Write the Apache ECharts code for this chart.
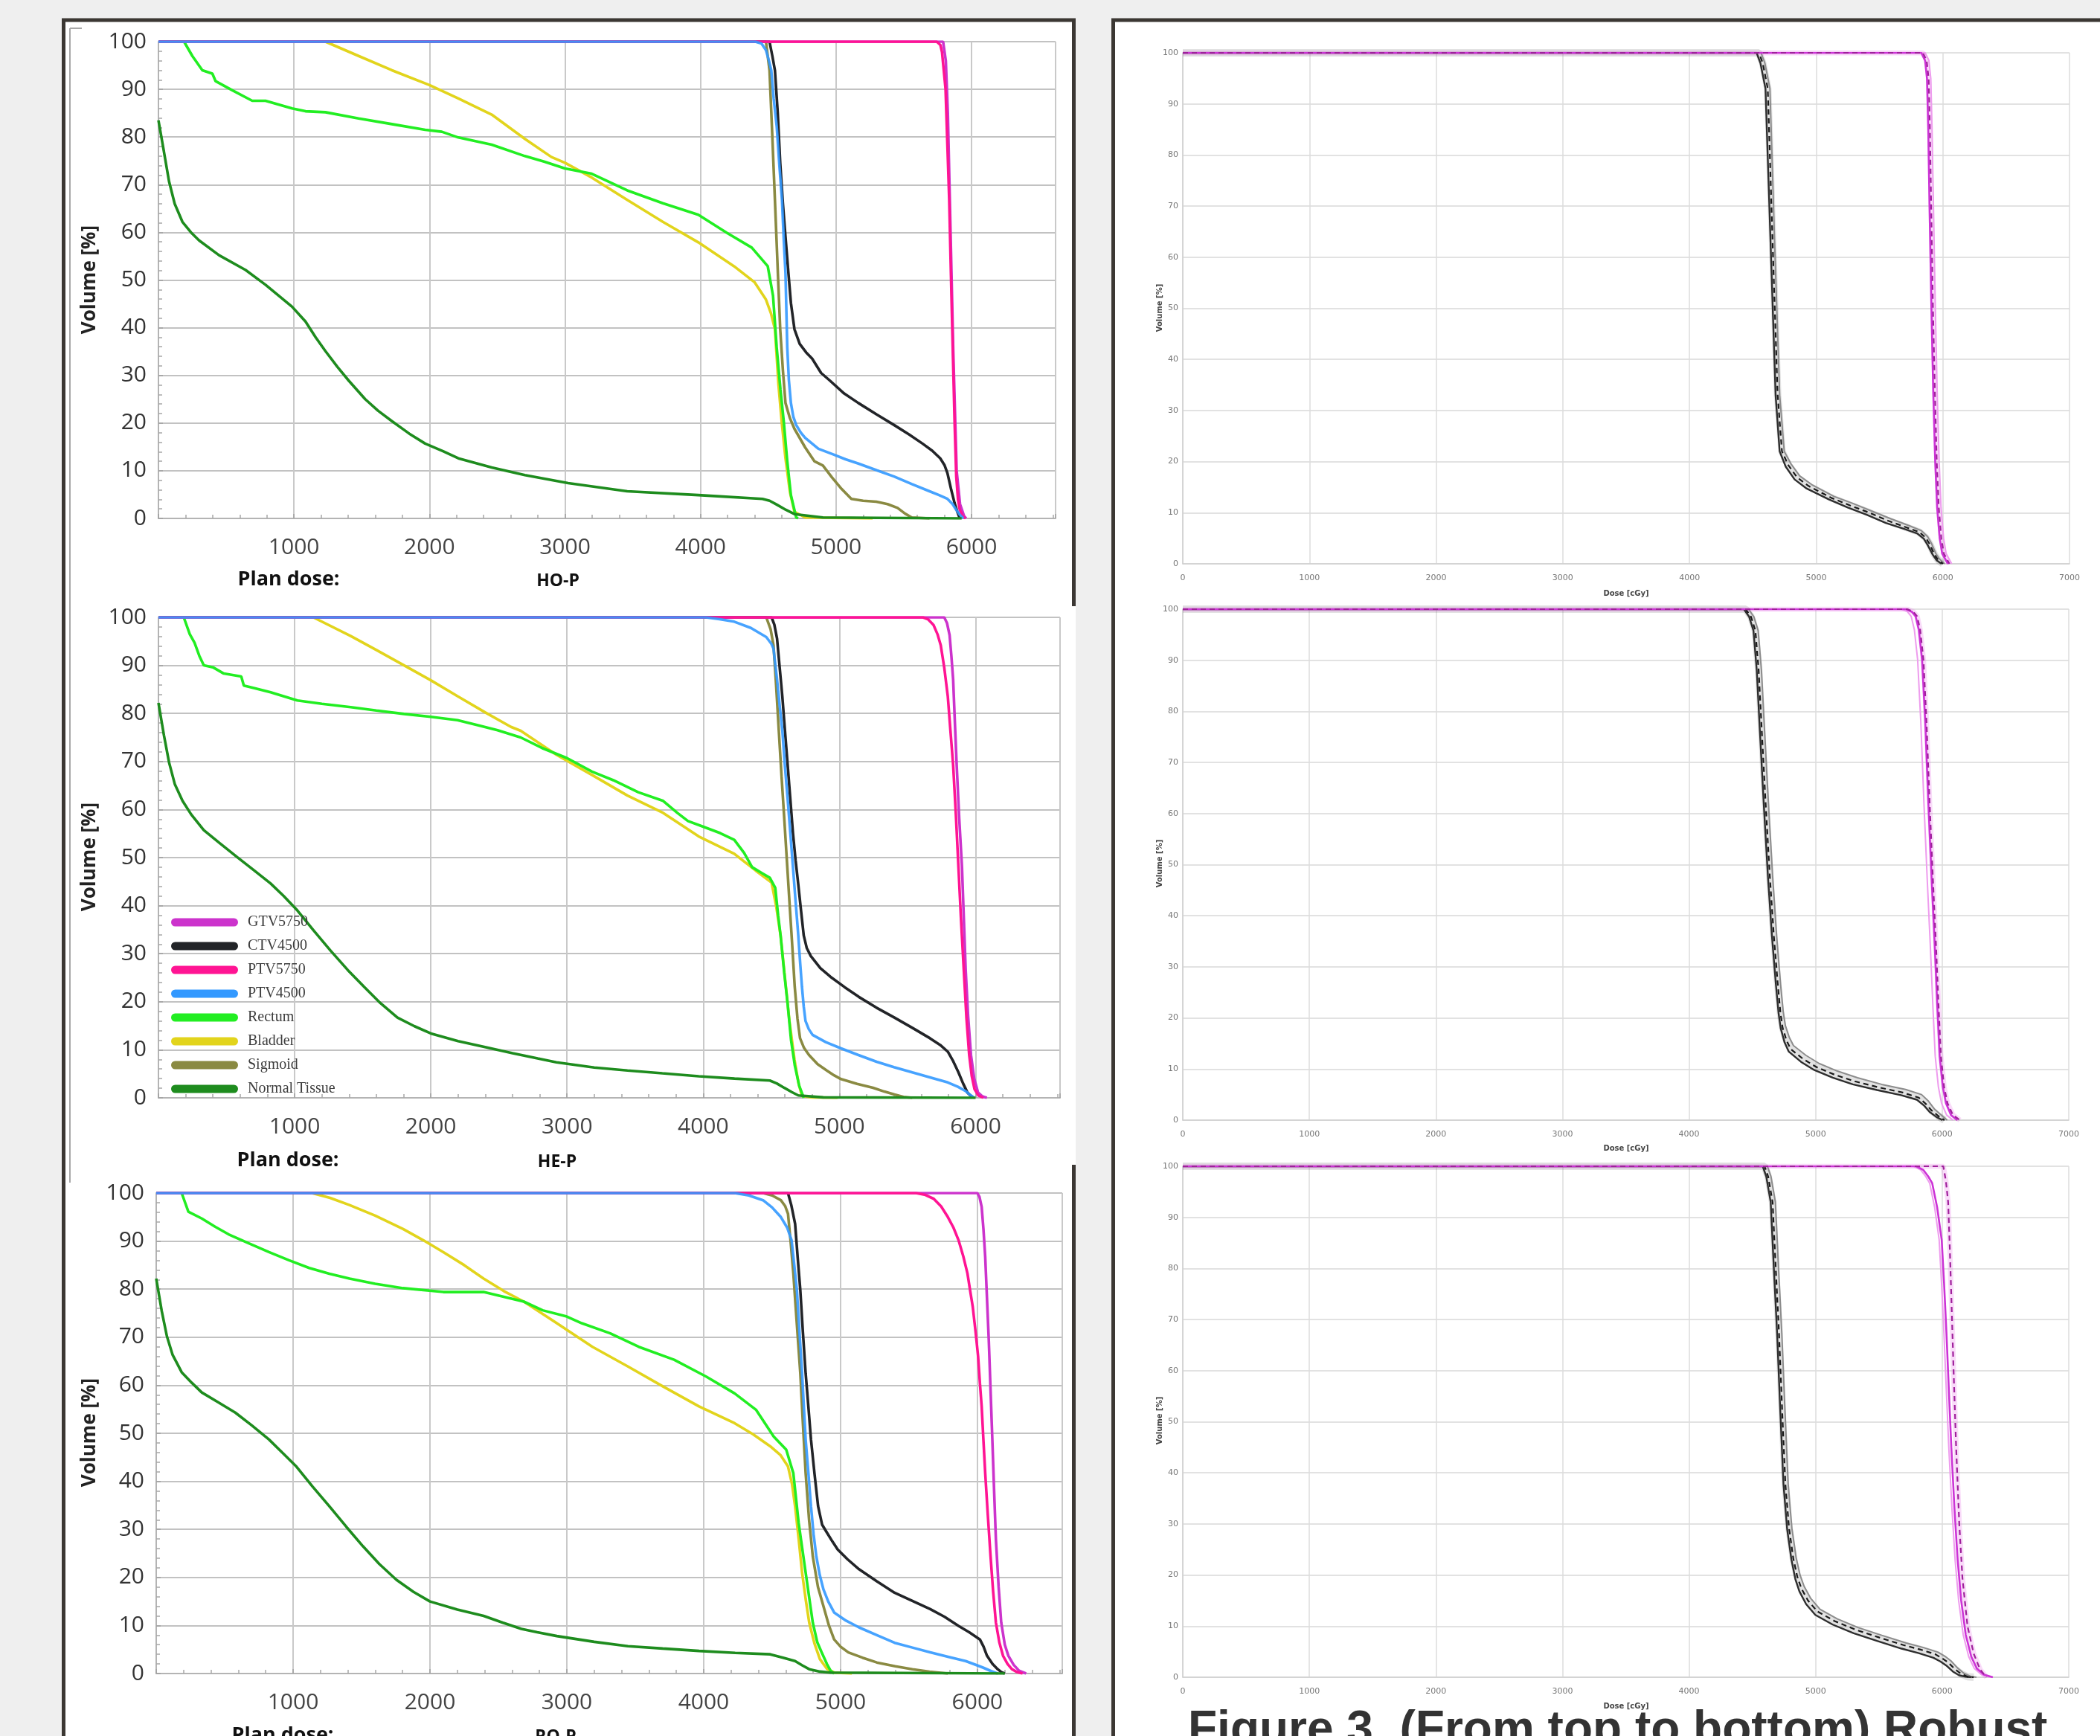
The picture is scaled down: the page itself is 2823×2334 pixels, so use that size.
<!DOCTYPE html>
<html><head><meta charset="utf-8">
<script src="https://cdn.jsdelivr.net/npm/echarts/dist/echarts.min.js"></script>
<style>html,body{margin:0;padding:0;background:#efefef;}#c{width:2823px;height:2334px;}</style>
</head><body><div id="c"></div>
<script>
// ---------- tick labels ----------
const volumeTicks = [0,10,20,30,40,50,60,70,80,90,100];
const doseTicksLeft = [1000,2000,3000,4000,5000,6000];
const doseTicksRight = [0,1000,2000,3000,4000,5000,6000,7000];
const legendNames = ['GTV5750','CTV4500','PTV5750','PTV4500','Rectum','Bladder','Sigmoid','Normal Tissue'];
const planNames = ['HO-P','HE-P','RO-P'];

// ---------- Left plot 1 : HO-P ----------
const hoGTV = [[0,100],[5790,100],[5810,96],[5825,85],[5845,60],[5865,35],[5890,10],[5915,3],[5945,0.5],[5960,0]];
const hoCTV = [[0,100],[4509,100],[4530,97],[4549,94],[4570,85],[4588,74.6],[4608,66],[4627,59.1],[4647,52],[4667,45.2],[4693,39.7],[4732,36.6],[4780,34.8],[4824,33.5],[4890,30.5],[4955,28.9],[5060,26.2],[5165,24.2],[5300,21.8],[5428,19.6],[5540,17.6],[5638,15.7],[5710,14.2],[5769,12.6],[5800,11.2],[5822,9.5],[5850,6],[5874,3.3],[5895,1.4],[5913,0]];
const hoPTV5750 = [[0,100],[5743,100],[5770,99.3],[5782,97.8],[5795,94],[5808,90.1],[5822,78],[5835,66.8],[5848,51],[5861,35.9],[5875,20],[5887,8.8],[5900,4],[5913,1.8],[5935,0.5],[5953,0]];
const hoPTV4500 = [[0,100],[4404,100],[4450,99.6],[4483,98.2],[4505,96],[4522,94],[4540,88],[4562,82.3],[4582,74],[4601,66.8],[4615,58],[4627,51.4],[4634,43],[4640,35.9],[4652,29],[4667,24.2],[4685,21.3],[4706,19.6],[4740,18],[4772,16.9],[4870,14.6],[4982,13.4],[5070,12.4],[5165,11.5],[5300,10.1],[5428,8.8],[5560,7.2],[5690,5.7],[5760,4.9],[5822,4.1],[5860,3],[5887,1.8],[5915,0.7],[5940,0]];
const hoRectum = [[0,100],[189,100],[250,97],[324,94],[398,93.3],[422,91.7],[545,89.8],[692,87.6],[790,87.6],[986,86],[1085,85.4],[1232,85.2],[1477,83.9],[1723,82.7],[1968,81.5],[2091,81.1],[2213,79.9],[2459,78.4],[2704,76],[2850,74.8],[3000,73.4],[3197,72.3],[3459,68.8],[3722,66.1],[3984,63.7],[4194,59.9],[4378,56.8],[4496,52.9],[4535,46.7],[4562,35.9],[4590,27],[4614,20.4],[4640,12],[4667,4.9],[4706,0.2],[4720,0]];
const hoBladder = [[0,100],[1232,100],[1477,97],[1723,94],[2000,90.9],[2213,88.1],[2459,84.7],[2704,79.6],[2900,75.8],[3000,74.6],[3197,71.5],[3459,66.8],[3722,62.2],[3984,57.9],[4247,52.9],[4400,49.5],[4483,45.9],[4520,43],[4549,39.7],[4562,34],[4575,28.1],[4600,20],[4627,12.6],[4660,5.5],[4693,1.4],[4772,0.2],[5270,0]];
const hoSigmoid = [[0,100],[4483,100],[4509,94],[4530,80],[4549,66.8],[4570,52],[4588,39.7],[4608,31],[4627,24.2],[4660,21],[4693,18.8],[4772,14.9],[4840,12],[4903,11.1],[4970,8.6],[5034,6.4],[5113,4.1],[5200,3.7],[5297,3.5],[5380,3],[5454,2.2],[5510,1],[5559,0.2],[5690,0]];
const hoNormal = [[0,83.5],[40,77],[78,70.7],[120,66],[177,62.2],[240,60],[300,58.3],[447,55.2],[643,52.1],[790,49],[986,44.4],[1085,41.3],[1160,38],[1232,35.1],[1320,31.8],[1404,28.9],[1526,25],[1620,22.6],[1723,20.4],[1850,17.8],[1968,15.7],[2100,14.1],[2213,12.6],[2459,10.7],[2704,9.1],[3023,7.4],[3459,5.7],[3984,4.9],[4457,4.1],[4510,3.7],[4562,2.9],[4630,1.8],[4693,0.9],[4903,0.2],[5927,0]];

// ---------- Left plot 2 : HE-P ----------
const heGTV = [[0,100],[5770,100],[5790,98.8],[5809,96.3],[5822,92],[5835,87.1],[5848,78],[5861,69.3],[5880,58],[5900,48],[5914,37],[5927,26.7],[5945,17],[5966,8.9],[5990,4],[6018,1.1],[6050,0.3],[6083,0]];
const heCTV = [[0,100],[4502,100],[4522,98.5],[4542,95.6],[4560,90],[4581,83.5],[4600,76.5],[4620,69.3],[4640,62],[4659,55.1],[4678,49.5],[4698,44.4],[4718,39],[4738,33.8],[4760,31.2],[4790,29.5],[4860,27],[4934,25.2],[5040,23],[5143,21],[5270,18.8],[5404,16.7],[5540,14.5],[5665,12.4],[5740,11],[5796,9.6],[5836,7.6],[5874,5.3],[5908,3],[5940,1.1],[5979,0]];
const hePTV5750 = [[0,100],[5613,100],[5650,99.6],[5691,98.4],[5720,96.5],[5744,94.2],[5770,89.5],[5796,83.5],[5815,76.5],[5835,69.3],[5855,59],[5874,48],[5893,37],[5913,26.7],[5933,16.5],[5953,8.9],[5972,4.5],[5992,1.8],[6020,0.5],[6057,0]];
const hePTV4500 = [[0,100],[4019,100],[4120,99.6],[4228,99.1],[4350,97.8],[4463,95.9],[4500,94.5],[4516,93.5],[4530,90],[4542,87.1],[4560,82],[4581,76.4],[4600,69],[4620,62.2],[4640,55],[4659,48],[4678,41],[4698,33.8],[4712,28],[4725,23.1],[4738,19],[4751,16],[4775,14.3],[4803,13.1],[4900,11.6],[5012,10.3],[5140,8.9],[5273,7.5],[5400,6.4],[5535,5.3],[5660,4.3],[5796,3.2],[5870,2.3],[5927,1.4],[5960,0.6],[5992,0]];
const heRectum = [[0,100],[186,100],[230,96.5],[265,94.7],[300,92],[333,90],[400,89.6],[480,88.3],[608,87.7],[627,85.8],[700,85.3],[824,84.4],[1020,82.7],[1200,82],[1412,81.3],[1600,80.6],[1804,79.9],[2000,79.3],[2196,78.6],[2350,77.5],[2490,76.5],[2660,75],[2817,72.8],[3000,70.7],[3183,67.9],[3340,66.1],[3523,63.6],[3706,61.8],[3810,59.3],[3888,57.6],[3993,56.5],[4124,55.1],[4228,53.7],[4300,51],[4359,48],[4430,46.8],[4489,45.8],[4529,43.7],[4550,38],[4568,33.8],[4595,26],[4620,19.5],[4645,12],[4672,6.8],[4705,2.5],[4738,0]];
const heBladder = [[0,100],[1137,100],[1412,96.1],[1600,93.2],[1804,90],[2000,86.9],[2196,83.6],[2400,80.2],[2588,77.2],[2660,76.4],[2922,71.4],[3183,67.2],[3444,62.9],[3706,59.3],[3967,54.4],[4228,50.8],[4385,47.3],[4502,44.8],[4535,40],[4568,33.8],[4600,25],[4633,16],[4670,8],[4700,3],[4725,0.4],[4800,0.1],[4986,0]];
const heSigmoid = [[0,100],[4463,100],[4495,97.5],[4516,94.2],[4535,86],[4555,76.4],[4575,67],[4594,58.6],[4614,49.5],[4633,40.9],[4653,32],[4672,23.1],[4692,16.5],[4711,12.4],[4740,10.4],[4777,8.9],[4840,7],[4907,5.7],[4960,4.7],[5012,3.9],[5130,2.9],[5247,2.1],[5330,1.3],[5404,0.7],[5470,0.2],[5535,0]];
const heNormal = [[0,82.2],[40,75.5],[78,69.8],[120,65.3],[177,61.8],[240,59],[333,55.7],[450,53],[578,50.1],[700,47.4],[824,44.6],[920,42],[1020,39],[1140,34.8],[1265,30.6],[1390,26.6],[1510,23.1],[1630,19.7],[1755,16.7],[1880,14.9],[2000,13.4],[2200,11.8],[2392,10.6],[2600,9.3],[2784,8.2],[2922,7.4],[3200,6.3],[3444,5.7],[3700,5.1],[3967,4.5],[4230,4],[4489,3.6],[4540,3],[4594,2.1],[4650,1.2],[4698,0.5],[4881,0.1],[6000,0]];

// ---------- Left plot 3 : RO-P ----------
const roGTV = [[0,100],[6000,100],[6015,99.2],[6031,97.1],[6044,92.5],[6057,86.7],[6070,78],[6083,69.4],[6096,59],[6109,48.7],[6122,38],[6135,27.9],[6155,18],[6174,10.6],[6200,6],[6226,3.7],[6265,1.8],[6304,0.6],[6356,0]];
const roCTV = [[0,100],[4616,100],[4640,97.5],[4668,93.6],[4687,86.5],[4706,79.8],[4725,71],[4745,62.5],[4765,55.5],[4784,48.7],[4810,41.5],[4836,34.8],[4865,31],[4901,29.3],[4940,27.5],[4979,25.8],[5050,23.8],[5135,21.7],[5265,19.2],[5395,16.8],[5525,15.1],[5655,13.4],[5760,11.8],[5862,9.9],[5940,8.6],[6018,7.1],[6045,5.6],[6070,3.7],[6110,2],[6148,0.9],[6175,0.3],[6200,0]];
const roPTV5750 = [[0,100],[5551,100],[5620,99.6],[5681,98.8],[5735,97.2],[5784,95],[5825,92.8],[5862,90.2],[5897,86.8],[5927,83.3],[5948,79.5],[5966,76.3],[5987,71],[6005,66],[6018,60.5],[6031,55.6],[6044,48.5],[6057,41.7],[6076,33],[6096,24.4],[6115,17],[6135,10.6],[6160,6.5],[6187,3.7],[6220,2],[6252,0.9],[6290,0.3],[6330,0]];
const roPTV4500 = [[0,100],[4226,100],[4330,99.5],[4434,98.5],[4500,97],[4564,95],[4610,92.8],[4642,90.2],[4662,85],[4681,79.8],[4700,71],[4719,62.5],[4732,55.5],[4745,48.7],[4765,41.7],[4784,34.8],[4803,29],[4823,24.4],[4848,20.5],[4875,17.5],[4910,15],[4953,12.7],[5040,11],[5135,9.6],[5265,8],[5395,6.4],[5525,5.4],[5655,4.4],[5785,3.5],[5914,2.6],[5980,1.9],[6044,1.2],[6100,0.5],[6148,0]];
const roRectum = [[0,100],[186,100],[235,96.1],[333,94.7],[430,93],[529,91.4],[680,89.5],[824,87.7],[970,86],[1118,84.4],[1265,83.2],[1412,82.2],[1600,81.1],[1804,80.2],[2098,79.4],[2392,79.4],[2686,77.4],[2823,75.6],[3000,74.3],[3109,72.9],[3317,70.8],[3525,68],[3784,65.3],[4018,61.8],[4226,58.3],[4382,54.9],[4512,49.3],[4603,46.6],[4655,41.7],[4694,31.3],[4745,21],[4797,10.6],[4830,6.5],[4862,4.4],[4900,2],[4927,0.6],[4953,0]];
const roBladder = [[0,100],[1137,100],[1270,99],[1412,97.5],[1600,95.3],[1804,92.5],[1950,90.2],[2098,87.7],[2250,85],[2392,82.2],[2540,79.6],[2686,77.4],[2927,72.9],[3187,68],[3447,63.9],[3706,59.7],[3966,55.6],[4226,52.1],[4360,49.8],[4486,47.3],[4560,45.5],[4616,43.1],[4645,39.5],[4668,34.8],[4694,28],[4719,21],[4745,15.5],[4771,10.6],[4810,6.2],[4849,3],[4900,1],[4953,0.2],[5083,0]];
const roSigmoid = [[0,100],[4434,100],[4500,99.5],[4564,98.5],[4595,97.3],[4616,95.7],[4635,90],[4655,83.3],[4680,73],[4706,62.5],[4725,52],[4745,41.7],[4770,32],[4797,24.4],[4835,18],[4875,14],[4915,10],[4953,7.1],[5000,5.6],[5057,4.4],[5160,3.3],[5265,2.3],[5400,1.5],[5525,0.9],[5650,0.4],[5784,0]];
const roNormal = [[0,82.2],[40,75.5],[78,70.2],[120,66.3],[186,62.7],[260,60.5],[333,58.5],[450,56.5],[578,54.3],[700,51.6],[824,48.7],[920,46],[1020,43.2],[1140,39],[1265,34.8],[1390,30.5],[1510,26.5],[1630,22.8],[1755,19.5],[1880,17],[2000,15],[2200,13.3],[2392,12],[2530,10.6],[2668,9.3],[2784,8.6],[2927,7.8],[3200,6.6],[3447,5.7],[3700,5.2],[3966,4.7],[4230,4.3],[4486,4],[4580,3.3],[4668,2.6],[4720,1.7],[4771,0.9],[4850,0.4],[4927,0.2],[6200,0]];

// ---------- Right plot 1 ----------
const r1CtvA = [[0,100],[4530,100],[4560,98],[4600,93],[4640,63],[4680,33],[4712,22],[4760,19],[4830,16.5],[4920,14.8],[5100,12.6],[5250,11],[5400,9.6],[5550,8],[5700,6.8],[5800,5.9],[5850,4.9],[5880,3.7],[5920,1.8],[5950,0.7],[5990,0]];
const r1CtvB = [[0,100],[4565,100],[4595,98],[4635,93],[4672,63],[4712,33],[4748,22],[4800,19.6],[4870,17.2],[4965,15.5],[5140,13.2],[5290,11.8],[5440,10.3],[5590,8.8],[5730,7.5],[5830,6.5],[5880,5.3],[5910,4],[5945,2],[5975,0.9],[6015,0]];
const r1CtvNom = [[0,100],[4548,100],[4578,98],[4618,93],[4656,63],[4696,33],[4730,22],[4780,19.3],[4850,16.9],[4942,15.2],[5120,12.9],[5270,11.4],[5420,10],[5570,8.4],[5715,7.1],[5815,6.2],[5865,5.1],[5895,3.9],[5932,1.9],[5962,0.8],[6002,0]];
const r1GtvA = [[0,100],[5830,100],[5860,98.5],[5875,95],[5885,85],[5895,70],[5910,50],[5925,33],[5940,20],[5955,11],[5975,5],[5995,2],[6040,0]];
const r1GtvB = [[0,100],[5860,100],[5890,98.5],[5905,95],[5915,85],[5926,70],[5941,50],[5956,33],[5971,20],[5986,11],[6006,5],[6026,2],[6070,0]];
const r1GtvNom = [[0,100],[5842,100],[5872,98.5],[5888,95],[5898,85],[5908,70],[5922,50],[5938,33],[5952,20],[5968,11],[5988,5],[6008,2],[6052,0]];

// ---------- Right plot 2 ----------
const r2CtvA = [[0,100],[4433,100],[4475,98.5],[4509,95.8],[4535,88],[4560,76],[4590,62],[4623,47.8],[4655,36],[4686,26.6],[4707,21],[4724,18],[4755,15.2],[4788,13.4],[4885,11.4],[4990,9.8],[5135,8.3],[5294,7],[5485,5.9],[5674,4.9],[5800,4],[5855,2.9],[5901,1.6],[5955,0.6],[6003,0]];
const r2CtvB = [[0,100],[4470,100],[4512,98.5],[4546,95.8],[4572,88],[4597,76],[4627,62],[4660,47.8],[4692,36],[4723,26.6],[4744,21.2],[4761,18.5],[4792,16.2],[4825,14.6],[4922,12.7],[5027,11.1],[5172,9.6],[5331,8.3],[5522,7],[5711,6],[5837,5],[5892,3.7],[5938,2.2],[5992,1],[6040,0]];
const r2CtvNom = [[0,100],[4448,100],[4490,98.5],[4524,95.8],[4550,88],[4575,76],[4605,62],[4638,47.8],[4670,36],[4701,26.6],[4722,21],[4739,18.1],[4770,15.6],[4803,13.9],[4900,12],[5005,10.4],[5150,8.9],[5309,7.6],[5500,6.4],[5689,5.4],[5815,4.4],[5870,3.2],[5916,1.9],[5970,0.8],[6018,0]];
const r2GtvA = [[0,100],[5714,100],[5760,99.5],[5790,98.6],[5815,96],[5841,90.1],[5866,78],[5891,61.9],[5917,47],[5942,33.7],[5962,22],[5980,12.5],[6005,6.5],[6030,3.3],[6070,1],[6119,0]];
const r2GtvB = [[0,100],[5680,100],[5725,99.5],[5755,98.6],[5780,96],[5806,90.1],[5831,78],[5856,61.9],[5882,47],[5907,33.7],[5927,22],[5945,12.5],[5970,6.5],[5995,3.3],[6035,1],[6085,0]];
const r2GtvNom = [[0,100],[5725,100],[5772,99.5],[5802,98.6],[5826,96],[5852,90.1],[5876,78],[5901,61.9],[5927,47],[5952,33.7],[5972,22],[5990,12.5],[6015,6.5],[6042,3.3],[6085,1],[6140,0]];

// ---------- Right plot 3 ----------
const r3CtvA = [[0,100],[4582,100],[4610,98],[4645,93],[4670,80],[4696,67.2],[4721,52],[4746,37.8],[4775,29],[4809,23],[4840,19.2],[4872,16.8],[4925,14.3],[4998,12.2],[5135,10.3],[5301,8.6],[5485,7.1],[5679,5.6],[5815,4.7],[5931,3.8],[5985,3.1],[6032,2.3],[6085,1.1],[6133,0.4],[6185,0.1],[6234,0]];
const r3CtvB = [[0,100],[4619,100],[4647,98],[4682,93],[4707,80],[4733,67.2],[4758,52],[4783,37.8],[4812,29.2],[4846,23.4],[4877,20],[4909,17.8],[4962,15.4],[5035,13.3],[5172,11.4],[5338,9.7],[5522,8.2],[5716,6.7],[5852,5.8],[5968,4.9],[6022,4.1],[6069,3.2],[6122,1.8],[6170,0.8],[6222,0.2],[6271,0]];
const r3CtvNom = [[0,100],[4597,100],[4625,98],[4660,93],[4685,80],[4711,67.2],[4736,52],[4761,37.8],[4790,29.2],[4824,23.2],[4855,19.7],[4887,17.4],[4940,15],[5013,12.9],[5150,11],[5316,9.3],[5500,7.8],[5694,6.3],[5830,5.4],[5946,4.5],[6000,3.7],[6047,2.9],[6100,1.6],[6148,0.7],[6200,0.1],[6249,0]];
const r3GtvA = [[0,100],[5795,100],[5850,99.3],[5890,98],[5921,96.7],[5960,92],[5996,85.6],[6015,77],[6034,67.2],[6053,56],[6072,45.1],[6097,33],[6122,23],[6150,15],[6186,8.3],[6230,4],[6274,1.7],[6330,0.5],[6400,0]];
const r3GtvB = [[0,100],[5775,100],[5830,99.3],[5870,98],[5901,96.7],[5940,92],[5976,85.6],[5995,77],[6014,67.2],[6033,56],[6052,45.1],[6077,33],[6102,23],[6130,15],[6166,8.3],[6210,4],[6254,1.7],[6310,0.5],[6380,0]];
const r3GtvNom = [[0,100],[6009,100],[6030,97],[6047,93],[6060,84],[6072,74.6],[6090,60],[6110,45.1],[6135,30],[6160,19.4],[6200,10],[6249,4.6],[6300,1.5],[6350,0]];

// ---------- styles ----------
const organColor = {
  'GTV5750':'#cc33cc','CTV4500':'#222428','PTV5750':'#ff1493','PTV4500':'#3399ff',
  'Rectum':'#22ee22','Bladder':'#e2d41c','Sigmoid':'#8a8a42','Normal Tissue':'#1e8c1e'
};
const leftData = [
  {GTV5750:hoGTV,CTV4500:hoCTV,PTV5750:hoPTV5750,PTV4500:hoPTV4500,Rectum:hoRectum,Bladder:hoBladder,Sigmoid:hoSigmoid,'Normal Tissue':hoNormal},
  {GTV5750:heGTV,CTV4500:heCTV,PTV5750:hePTV5750,PTV4500:hePTV4500,Rectum:heRectum,Bladder:heBladder,Sigmoid:heSigmoid,'Normal Tissue':heNormal},
  {GTV5750:roGTV,CTV4500:roCTV,PTV5750:roPTV5750,PTV4500:roPTV4500,Rectum:roRectum,Bladder:roBladder,Sigmoid:roSigmoid,'Normal Tissue':roNormal}
];
const rightData = [
  {ctvA:r1CtvA,ctvB:r1CtvB,ctvNom:r1CtvNom,gtvA:r1GtvA,gtvB:r1GtvB,gtvNom:r1GtvNom},
  {ctvA:r2CtvA,ctvB:r2CtvB,ctvNom:r2CtvNom,gtvA:r2GtvA,gtvB:r2GtvB,gtvNom:r2GtvNom},
  {ctvA:r3CtvA,ctvB:r3CtvB,ctvNom:r3CtvNom,gtvA:r3GtvA,gtvB:r3GtvB,gtvNom:r3GtvNom}
];
const leftGrids = [
  {left:213, top:56, width:1206, height:641},
  {left:213, top:830, width:1212, height:646},
  {left:210, top:1604, width:1218, height:646}
];
const rightGrids = [
  {left:1590, top:71, width:1192, height:687},
  {left:1590, top:819, width:1191, height:687},
  {left:1590, top:1568, width:1191, height:687}
];
const drawOrder = ['Bladder','Rectum','Sigmoid','CTV4500','GTV5750','PTV5750','PTV4500','Normal Tissue'];

const grid = [], xAxis = [], yAxis = [], series = [];
leftGrids.forEach((g, i) => {
  grid.push(Object.assign({containLabel:false}, g));
  xAxis.push({type:'value', gridIndex:i, min:0, max:6620, interval:1000, offset:9,
    axisLine:{show:true, lineStyle:{color:'#b4b4b4', width:2}},
    axisTick:{show:true, inside:true, length:6, lineStyle:{color:'#a0a0a0', width:1.5}},
    minorTick:{show:true, splitNumber:5, length:5, lineStyle:{color:'#a8a8a8', width:1.5}},
    splitLine:{show:true, lineStyle:{color:'#c9c9c9', width:2}},
    axisLabel:{margin:15, fontSize:30, fontFamily:'Open Sans', color:'#444',
      formatter: v => doseTicksLeft.indexOf(v) >= 0 ? String(v) : ''}
  });
  yAxis.push({type:'value', gridIndex:i, min:0, max:100, interval:10,
    axisLine:{show:true, lineStyle:{color:'#b4b4b4', width:2}},
    axisTick:{show:true, inside:true, length:6, lineStyle:{color:'#a0a0a0', width:1.5}},
    minorTick:{show:true, splitNumber:5, length:5, lineStyle:{color:'#a8a8a8', width:1.5}},
    splitLine:{show:true, lineStyle:{color:'#c2c2c2', width:2}},
    axisLabel:{margin:16, fontSize:30, fontFamily:'Open Sans', color:'#333',
      formatter: v => volumeTicks.indexOf(v) >= 0 ? String(v) : ''}
  });
  drawOrder.forEach(name => {
    series.push({type:'line', name:name, xAxisIndex:i, yAxisIndex:i, data:leftData[i][name],
      showSymbol:false, symbol:'none', color:organColor[name],
      lineStyle:{width:3.6, color:organColor[name], opacity: name==='PTV4500'?0.9:1}, silent:true});
  });
});
rightGrids.forEach((g, j) => {
  const i = j + 3;
  grid.push(Object.assign({containLabel:false}, g));
  xAxis.push({type:'value', gridIndex:i, min:0, max:7000, interval:1000,
    axisLine:{show:true, lineStyle:{color:'#cfcfcf', width:1.5}},
    axisTick:{show:false},
    splitLine:{show:true, lineStyle:{color:'#dcdcdc', width:1.5}},
    axisLabel:{margin:14, fontSize:11, fontFamily:'DejaVu Sans', color:'#777',
      formatter: v => doseTicksRight.indexOf(v) >= 0 ? String(v) : ''}
  });
  yAxis.push({type:'value', gridIndex:i, min:0, max:100, interval:10,
    axisLine:{show:true, lineStyle:{color:'#cfcfcf', width:1.5}},
    axisTick:{show:false},
    splitLine:{show:true, lineStyle:{color:'#d8d8d8', width:1.5}},
    axisLabel:{margin:6, fontSize:11, fontFamily:'DejaVu Sans', color:'#777',
      formatter: v => volumeTicks.indexOf(v) >= 0 ? String(v) : ''}
  });
  const d = rightData[j];
  const mk = (nm, data, style) => series.push({type:'line', name:nm, xAxisIndex:i, yAxisIndex:i, data:data,
      showSymbol:false, symbol:'none', silent:true, lineStyle:style, color:style.color});
  mk('r'+j+'ctvBand', d.ctvNom, {width:10, color:'rgba(60,60,60,0.15)'});
  mk('r'+j+'gtvBand', d.gtvNom, {width:7, color:'rgba(230,110,230,0.25)'});
  mk('r'+j+'ctvB', d.ctvB, {width:2, color:'#8c8c8c'});
  mk('r'+j+'ctvA', d.ctvA, {width:2.4, color:'#2e2e2e'});
  mk('r'+j+'ctvNom', d.ctvNom, {width:2.2, color:'#1a1a1a', type:[7,5]});
  mk('r'+j+'gtvB', d.gtvB, {width:2, color:'#ee9cee'});
  mk('r'+j+'gtvA', d.gtvA, {width:2.6, color:'#cc33d6'});
  mk('r'+j+'gtvNom', d.gtvNom, {width:2.2, color:'#a0209c', type:[7,5]});
});

// ---------- graphics (frames and labels) ----------
const txt = (x, y, text, font, fill, opts) => Object.assign({type:'text', x:x, y:y, z:50,
  style:{text:text, x:0, y:0, font:font, fill:fill, textAlign:'center', textVerticalAlign:'middle'}}, opts || {});
const line = (x1,y1,x2,y2,color,w,z) => ({type:'line', z:z===undefined?-5:z, shape:{x1:x1,y1:y1,x2:x2,y2:y2}, style:{stroke:color, lineWidth:w}});
const graphic = [
  {type:'rect', z:-10, shape:{x:83, y:25, width:1363, height:2400}, style:{fill:'#ffffff'}},
  {type:'rect', z:-10, shape:{x:1494, y:25, width:1400, height:2400}, style:{fill:'#ffffff'}},
  line(83,27,1446,27,'#3b3733',5), line(85.5,25,85.5,2334,'#3b3733',5),
  line(1443.5,25,1443.5,815,'#3b3733',5), line(1443.5,1566,1443.5,2334,'#3b3733',5),
  line(1494,27,2823,27,'#3b3733',5), line(1496.5,25,1496.5,2334,'#3b3733',5),
  line(94,38,94,1590,'#a8a8a8',2), line(94,38,110,38,'#a8a8a8',2)
];
const leftLabelY = [[121,376],[121,1152],[121,1926]];
const planY = [779, 1560, 2333];
const planX = [[388,750],[387,749],[380,747]];
for (let k = 0; k < 3; k++) {
  graphic.push(txt(leftLabelY[k][0], leftLabelY[k][1], 'Volume [%]', 'bold 26px "Open Sans"', '#222', {rotation:Math.PI/2}));
  graphic.push(txt(planX[k][0], planY[k], 'Plan dose:', 'bold 27px "Open Sans"', '#111'));
  graphic.push(txt(planX[k][1], planY[k] + 2, planNames[k], 'bold 23px "Open Sans"', '#111'));
}
const rVolY = [414, 1161, 1910];
const rDoseY = [798, 1544, 2294];
for (let k = 0; k < 3; k++) {
  graphic.push(txt(1559, rVolY[k], 'Volume [%]', 'bold 10px "DejaVu Sans"', '#444', {rotation:Math.PI/2}));
  graphic.push(txt(2186, rDoseY[k], 'Dose [cGy]', 'bold 10px "DejaVu Sans"', '#444'));
}
graphic.push({type:'text', x:1597, y:2327, z:50, style:{text:'Figure 3. (From top to bottom) Robust',
  x:0, y:0, font:'bold 64px "Liberation Sans"', fill:'#333', textAlign:'left', textVerticalAlign:'middle'}});

const chart = echarts.init(document.getElementById('c'), null, {renderer:'canvas', width:2823, height:2334});
chart.setOption({
  backgroundColor:'#efefef',
  animation:false,
  grid:grid, xAxis:xAxis, yAxis:yAxis, series:series, graphic:graphic,
  legend:{
    data:legendNames, orient:'vertical', left:225, top:1219, padding:5,
    itemWidth:90, itemHeight:11, itemGap:0, selectedMode:false,
    icon:'path://M5.5,0H84.5A5.5,5.5,0,0,1,84.5,11H5.5A5.5,5.5,0,0,1,5.5,0Z',
    textStyle:{fontFamily:'Liberation Serif', fontSize:20, color:'#3c3c3c', lineHeight:32, padding:[0,0,0,8]}
  }
});
</script></body></html>
